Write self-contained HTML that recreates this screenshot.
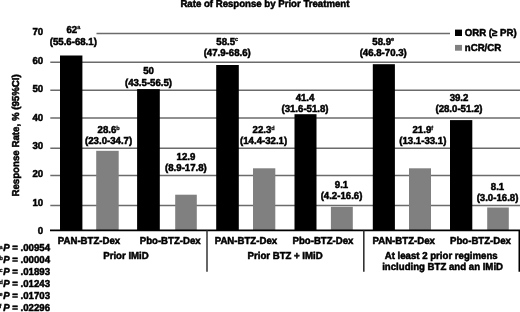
<!DOCTYPE html>
<html><head><meta charset="utf-8"><style>
html,body{margin:0;padding:0;background:#fff;width:520px;height:312px;overflow:hidden}
svg{display:block;filter:grayscale(1)}
text{font-family:"Liberation Sans",sans-serif;font-weight:bold;font-size:9.65px;fill:#000;stroke:#000;stroke-width:0.5px;text-rendering:geometricPrecision}
.sup{font-size:5.5px;stroke-width:0.25px}
</style></head><body>
<svg width="520" height="312" viewBox="0 0 520 312">
<rect x="0" y="0" width="520" height="312" fill="#fff"/>
<line x1="96.5" y1="33.58" x2="450.0" y2="33.58" stroke="#6b6b6b" stroke-width="1.5"/>
<line x1="50.3" y1="62.15" x2="520" y2="62.15" stroke="#6b6b6b" stroke-width="1.5"/>
<line x1="50.3" y1="90.35" x2="520" y2="90.35" stroke="#6b6b6b" stroke-width="1.5"/>
<line x1="50.3" y1="118.08" x2="520" y2="118.08" stroke="#6b6b6b" stroke-width="1.5"/>
<line x1="50.3" y1="148.15" x2="520" y2="148.15" stroke="#6b6b6b" stroke-width="1.5"/>
<line x1="50.3" y1="175.46" x2="520" y2="175.46" stroke="#6b6b6b" stroke-width="1.5"/>
<line x1="50.3" y1="205.38" x2="520" y2="205.38" stroke="#6b6b6b" stroke-width="1.5"/>
<rect x="60.0" y="55.5" width="22.40" height="174.95" fill="#000"/>
<rect x="96.2" y="150.8" width="22.50" height="79.65" fill="#808080"/>
<rect x="137.1" y="89.1" width="22.70" height="141.35" fill="#000"/>
<rect x="175.2" y="194.7" width="21.60" height="35.75" fill="#808080"/>
<rect x="216.2" y="65.0" width="22.60" height="165.45" fill="#000"/>
<rect x="253.0" y="168.3" width="22.30" height="62.15" fill="#808080"/>
<rect x="294.5" y="114.2" width="22.00" height="116.25" fill="#000"/>
<rect x="330.9" y="206.8" width="21.90" height="23.65" fill="#808080"/>
<rect x="372.8" y="64.2" width="22.10" height="166.25" fill="#000"/>
<rect x="409.0" y="168.3" width="22.00" height="62.15" fill="#808080"/>
<rect x="450.0" y="120.1" width="22.30" height="110.35" fill="#000"/>
<rect x="487.2" y="207.5" width="21.60" height="22.95" fill="#808080"/>
<line x1="50" y1="230.45" x2="520" y2="230.45" stroke="#000" stroke-width="1.7"/>
<line x1="207.0" y1="230.45" x2="207.0" y2="271.7" stroke="#404040" stroke-width="1.6"/>
<line x1="363.8" y1="230.45" x2="363.8" y2="271.7" stroke="#333" stroke-width="1.6"/>
<line x1="519.3" y1="230.45" x2="519.3" y2="271.7" stroke="#000" stroke-width="1.6"/>
<text transform="matrix(1,0,0,1.04,180.4,7.0)">Rate of Response by Prior Treatment</text>
<text transform="matrix(0,-1.008,1.04,0,18.7,196.6)">Response Rate, % (95%CI)</text>
<text transform="matrix(1,0,0,1.04,43.2,35.3)" text-anchor="end">70</text>
<text transform="matrix(1,0,0,1.04,43.2,64.1)" text-anchor="end">60</text>
<text transform="matrix(1,0,0,1.04,43.2,92.3)" text-anchor="end">50</text>
<text transform="matrix(1,0,0,1.04,43.2,120.6)" text-anchor="end">40</text>
<text transform="matrix(1,0,0,1.04,43.2,149.3)" text-anchor="end">30</text>
<text transform="matrix(1,0,0,1.04,43.2,177.0)" text-anchor="end">20</text>
<text transform="matrix(1,0,0,1.04,43.2,205.8)" text-anchor="end">10</text>
<text transform="matrix(1,0,0,1.04,43.2,233.6)" text-anchor="end">0</text>
<rect x="455" y="29.6" width="7" height="6.4" fill="#000"/>
<rect x="455" y="44.9" width="7" height="5.8" fill="#808080"/>
<text transform="matrix(1,0,0,1.04,464.8,35.6)">ORR (≥ PR)</text>
<text transform="matrix(1,0,0,1.04,464.8,50.5)">nCR/CR</text>
<text transform="matrix(1,0,0,1.04,73.3,33.2)" text-anchor="middle">62<tspan class="sup" dy="-3.6">a</tspan></text>
<text transform="matrix(1,0,0,1.04,73.3,45.0)" text-anchor="middle">(55.6-68.1)</text>
<text transform="matrix(1,0,0,1.04,108.6,132.8)" text-anchor="middle">28.6<tspan class="sup" dy="-2.4">b</tspan></text>
<text transform="matrix(1,0,0,1.04,108.6,143.8)" text-anchor="middle">(23.0-34.7)</text>
<text transform="matrix(1,0,0,1.04,148.5,74.0)" text-anchor="middle">50</text>
<text transform="matrix(1,0,0,1.04,148.5,86.0)" text-anchor="middle">(43.5-56.5)</text>
<text transform="matrix(1,0,0,1.04,185.9,159.9)" text-anchor="middle">12.9</text>
<text transform="matrix(1,0,0,1.04,185.9,170.9)" text-anchor="middle">(8.9-17.8)</text>
<text transform="matrix(1,0,0,1.04,227.2,45.1)" text-anchor="middle">58.5<tspan class="sup" dy="-3.6">c</tspan></text>
<text transform="matrix(1,0,0,1.04,227.2,56.1)" text-anchor="middle">(47.9-68.6)</text>
<text transform="matrix(1,0,0,1.04,263.6,132.6)" text-anchor="middle">22.3<tspan class="sup" dy="-2.4">d</tspan></text>
<text transform="matrix(1,0,0,1.04,263.6,143.7)" text-anchor="middle">(14.4-32.1)</text>
<text transform="matrix(1,0,0,1.04,305.0,100.9)" text-anchor="middle">41.4</text>
<text transform="matrix(1,0,0,1.04,305.0,111.6)" text-anchor="middle">(31.6-51.8)</text>
<text transform="matrix(1,0,0,1.04,341.5,188.4)" text-anchor="middle">9.1</text>
<text transform="matrix(1,0,0,1.04,341.5,199.1)" text-anchor="middle">(4.2-16.6)</text>
<text transform="matrix(1,0,0,1.04,383.2,44.8)" text-anchor="middle">58.9<tspan class="sup" dy="-3.6">e</tspan></text>
<text transform="matrix(1,0,0,1.04,383.2,55.8)" text-anchor="middle">(46.8-70.3)</text>
<text transform="matrix(1,0,0,1.04,422.8,132.6)" text-anchor="middle">21.9<tspan class="sup" dy="-2.4">f</tspan></text>
<text transform="matrix(1,0,0,1.04,422.8,143.9)" text-anchor="middle">(13.1-33.1)</text>
<text transform="matrix(1,0,0,1.04,459.0,101.1)" text-anchor="middle">39.2</text>
<text transform="matrix(1,0,0,1.04,459.0,112.1)" text-anchor="middle">(28.0-51.2)</text>
<text transform="matrix(1,0,0,1.04,497.5,189.6)" text-anchor="middle">8.1</text>
<text transform="matrix(1,0,0,1.04,497.5,200.7)" text-anchor="middle">(3.0-16.8)</text>
<text transform="matrix(1,0,0,1.04,89.0,243.6)" text-anchor="middle">PAN-BTZ-Dex</text>
<text transform="matrix(1,0,0,1.04,170.2,243.6)" text-anchor="middle">Pbo-BTZ-Dex</text>
<text transform="matrix(1,0,0,1.04,245.9,243.6)" text-anchor="middle">PAN-BTZ-Dex</text>
<text transform="matrix(1,0,0,1.04,323.0,243.6)" text-anchor="middle">Pbo-BTZ-Dex</text>
<text transform="matrix(1,0,0,1.04,403.7,243.6)" text-anchor="middle">PAN-BTZ-Dex</text>
<text transform="matrix(1,0,0,1.04,480.5,243.6)" text-anchor="middle">Pbo-BTZ-Dex</text>
<text transform="matrix(1,0,0,1.04,126.0,258.5)" text-anchor="middle">Prior IMiD</text>
<text transform="matrix(1,0,0,1.04,285.1,258.7)" text-anchor="middle">Prior BTZ + IMiD</text>
<text transform="matrix(1,0,0,1.04,441.2,258.7)" text-anchor="middle">At least 2 prior regimens</text>
<text transform="matrix(1,0,0,1.04,442.6,269.5)" text-anchor="middle">including BTZ and an IMiD</text>
<text transform="matrix(1,0,0,1.04,-0.5,248.5)" class="sup">a</text>
<text transform="matrix(1,0,0,1.04,3.2,251.3)" font-style="italic">P</text>
<text transform="matrix(1,0,0,1.04,12.3,251.3)">=</text>
<text transform="matrix(1,0,0,1.04,50.05,251.3)" text-anchor="end">.00954</text>
<text transform="matrix(1,0,0,1.04,-0.5,260.45)" class="sup">b</text>
<text transform="matrix(1,0,0,1.04,3.2,263.25)" font-style="italic">P</text>
<text transform="matrix(1,0,0,1.04,12.3,263.25)">=</text>
<text transform="matrix(1,0,0,1.04,50.05,263.25)" text-anchor="end">.00004</text>
<text transform="matrix(1,0,0,1.04,-0.5,272.4)" class="sup">c</text>
<text transform="matrix(1,0,0,1.04,3.2,275.2)" font-style="italic">P</text>
<text transform="matrix(1,0,0,1.04,12.3,275.2)">=</text>
<text transform="matrix(1,0,0,1.04,50.05,275.2)" text-anchor="end">.01893</text>
<text transform="matrix(1,0,0,1.04,-0.5,284.35)" class="sup">d</text>
<text transform="matrix(1,0,0,1.04,3.2,287.15)" font-style="italic">P</text>
<text transform="matrix(1,0,0,1.04,12.3,287.15)">=</text>
<text transform="matrix(1,0,0,1.04,50.05,287.15)" text-anchor="end">.01243</text>
<text transform="matrix(1,0,0,1.04,-0.5,296.3)" class="sup">e</text>
<text transform="matrix(1,0,0,1.04,3.2,299.1)" font-style="italic">P</text>
<text transform="matrix(1,0,0,1.04,12.3,299.1)">=</text>
<text transform="matrix(1,0,0,1.04,50.05,299.1)" text-anchor="end">.01703</text>
<text transform="matrix(1,0,0,1.04,-0.5,308.25)" class="sup">f</text>
<text transform="matrix(1,0,0,1.04,3.2,311.05)" font-style="italic">P</text>
<text transform="matrix(1,0,0,1.04,12.3,311.05)">=</text>
<text transform="matrix(1,0,0,1.04,50.05,311.05)" text-anchor="end">.02296</text>
</svg></body></html>
